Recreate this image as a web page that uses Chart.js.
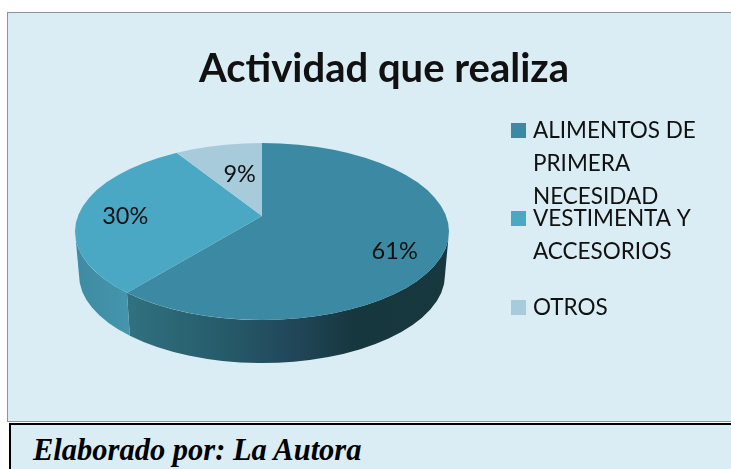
<!DOCTYPE html>
<html><head><meta charset="utf-8">
<style>
html,body{margin:0;padding:0;background:#fff;width:731px;height:469px;overflow:hidden}
#panel{position:absolute;left:7px;top:12px;width:740px;height:408px;background:#DBEDF4;border:1px solid #8f9496;box-sizing:content-box}
#foot{position:absolute;left:9px;top:423px;width:740px;height:60px;background:#DBEDF4;border:2px solid #000;box-sizing:content-box}
#footText{position:absolute;left:33px;top:433px;font:italic bold 30.5px "Liberation Serif",serif;color:#000;white-space:nowrap}
#wrap{position:absolute;left:0;top:0;width:731px;height:469px}
canvas{display:block}
</style>
<script src="https://cdn.jsdelivr.net/npm/chart.js@4"></script>
</head><body>
<div id="panel"></div><div id="foot"></div>
<div id="footText">Elaborado por: La Autora</div>
<div id="wrap"><canvas id="c" width="731" height="469"></canvas></div>
<script>
const chartTitle = "Actividad que realiza";
const categories = ["ALIMENTOS DE PRIMERA NECESIDAD", "VESTIMENTA Y ACCESORIOS", "OTROS"];
const legendLines = [["ALIMENTOS DE","PRIMERA","NECESIDAD"],["VESTIMENTA Y","ACCESORIOS"],["OTROS"]];
const values = [61, 30, 9];
const sliceColors = ["#3B89A3", "#4AA8C5", "#A8CBDB"];

// pie geometry on the page
const apex = {x:262, y:216}, squash = 0.47;
const rim = {x:262, y:231.5, rx:187, ry:88.5};
const base = {x:262, y:275, rx:183, ry:88};
const labelRadius = [141, 137, 80], labelShift = [13, 4, -5];
const legendX = 511, legendTextX = 533, legendBoxY = [123, 211, 300], legendLineH = 33;

function rimParam(theta){
  // intersection of the ray from the apex at slice angle theta with the rim ellipse
  const dx = Math.sin(theta), dy = -Math.cos(theta)*squash;
  const ox = (apex.x-rim.x)/rim.rx, oy = (apex.y-rim.y)/rim.ry;
  const ux = dx/rim.rx, uy = dy/rim.ry;
  const a = ux*ux+uy*uy, b = 2*(ox*ux+oy*uy), c = ox*ox+oy*oy-1;
  const k = (-b+Math.sqrt(b*b-4*a*c))/(2*a);
  return Math.atan2(oy+k*uy, ox+k*ux);
}
function wall(ctx, t0, t1, fill){
  ctx.beginPath();
  ctx.ellipse(rim.x, rim.y, rim.rx, rim.ry, 0, t0, t1, false);
  ctx.ellipse(base.x, base.y, base.rx, base.ry, 0, t1, t0, true);
  ctx.closePath();
  ctx.fillStyle = fill; ctx.fill();
}
const pie3d = {
  id:"pie3d",
  beforeDatasetsDraw(chart){
    const ctx = chart.ctx, arcs = chart.getDatasetMeta(0).data;
    const tSeam = rimParam(arcs[0].endAngle + Math.PI/2);
    const gr = ctx.createLinearGradient(132,0,449,0);
    gr.addColorStop(0,"#30707F"); gr.addColorStop(0.3,"#265A69"); gr.addColorStop(0.52,"#204658");
    gr.addColorStop(0.7,"#17373F"); gr.addColorStop(1,"#18383F");
    wall(ctx, 0, tSeam, gr);
    const gl = ctx.createLinearGradient(75,0,135,0);
    gl.addColorStop(0,"#3E8BA3"); gl.addColorStop(1,"#4596AE");
    wall(ctx, tSeam, Math.PI, gl);
    ctx.save();
    ctx.beginPath();
    ctx.ellipse(rim.x, rim.y, rim.rx, rim.ry, 0, 0, Math.PI*2);
    ctx.clip();
    ctx.translate(apex.x, apex.y);
    ctx.scale(1, squash);
    ctx.translate(-arcs[0].x, -arcs[0].y);
  },
  afterDatasetsDraw(chart){
    const ctx = chart.ctx, arcs = chart.getDatasetMeta(0).data;
    ctx.restore();
    ctx.save();
    ctx.fillStyle = "#111"; ctx.textAlign = "center"; ctx.textBaseline = "middle";
    ctx.font = '23.5px Lato';
    const total = values.reduce((a,b)=>a+b,0);
    arcs.forEach((a,i)=>{
      const m = (a.startAngle+a.endAngle)/2 + Math.PI/2;
      ctx.fillText(Math.round(values[i]/total*100)+"%",
        apex.x + Math.sin(m)*labelRadius[i],
        apex.y - Math.cos(m)*labelRadius[i]*squash + labelShift[i]);
    });
    ctx.font = '22.5px Lato'; ctx.textAlign = "left";
    legendLines.forEach((lines,i)=>{
      ctx.fillStyle = sliceColors[i];
      ctx.fillRect(legendX, legendBoxY[i], 15, 15);
      ctx.fillStyle = "#111";
      lines.forEach((t,j)=>ctx.fillText(t, legendTextX, legendBoxY[i]+7.5+j*legendLineH));
    });
    ctx.restore();
  }
};
new Chart(document.getElementById("c"),{
  type:"pie",
  data:{labels:categories,datasets:[{data:values,backgroundColor:sliceColors,borderWidth:0,radius:240,clip:false}]},
  plugins:[pie3d],
  options:{
    responsive:false,animation:false,
    layout:{padding:{left:37}},
    events:[],
    plugins:{
      legend:{display:false},tooltip:{enabled:false},
      title:{display:true,text:chartTitle,color:"#111",align:"center",
        font:{family:"Lato",size:40,weight:"bold"},padding:{top:45,bottom:10}}
    }
  }
});
</script>
</body></html>
